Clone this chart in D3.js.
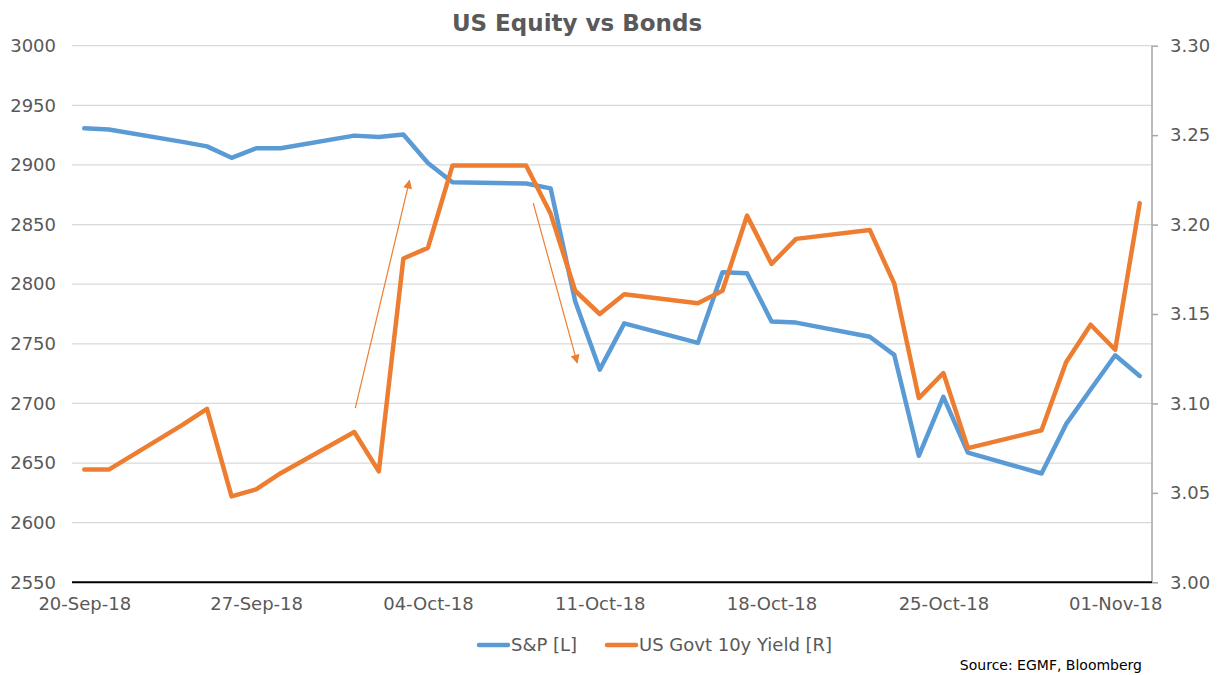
<!DOCTYPE html>
<html>
<head>
<meta charset="utf-8">
<script src="https://cdn.jsdelivr.net/npm/d3@7"></script>
<style>
  body { margin: 0; background: #fff; }
  text { font-family: "DejaVu Sans", Verdana, sans-serif; }
</style>
</head>
<body>
<div class="chart"></div>
<script>
// trading days
const dates = ["2018-09-20","2018-09-21","2018-09-24","2018-09-25","2018-09-26","2018-09-27","2018-09-28",
  "2018-10-01","2018-10-02","2018-10-03","2018-10-04","2018-10-05","2018-10-08","2018-10-09","2018-10-10",
  "2018-10-11","2018-10-12","2018-10-15","2018-10-16","2018-10-17","2018-10-18","2018-10-19","2018-10-22",
  "2018-10-23","2018-10-24","2018-10-25","2018-10-26","2018-10-29","2018-10-30","2018-10-31","2018-11-01","2018-11-02"]
const spx = [2930.75,2929.67,2919.37,2915.56,2905.97,2914.00,2913.98,2924.59,2923.43,2925.51,2901.61,2885.57,
  2884.43,2880.34,2785.68,2728.37,2767.13,2750.79,2809.92,2809.21,2768.78,2767.78,2755.88,2740.69,2656.10,
  2705.57,2658.69,2641.25,2682.63,2711.74,2740.37,2723.06]
const yield10y = [3.063,3.063,3.088,3.097,3.048,3.052,3.061,3.084,3.062,3.181,3.187,3.233,3.233,3.206,3.163,
  3.150,3.161,3.156,3.163,3.205,3.178,3.192,3.197,3.167,3.103,3.117,3.075,3.085,3.123,3.144,3.130,3.212]

const xTicks = ["2018-09-20","2018-09-27","2018-10-04","2018-10-11","2018-10-18","2018-10-25","2018-11-01"]
const leftTicks = [2550,2600,2650,2700,2750,2800,2850,2900,2950,3000]
const rightTicks = [3.00,3.05,3.10,3.15,3.20,3.25,3.30]

const seriesNames = ["S&P [L]", "US Govt 10y Yield [R]"]
const seriesColors = ["#5b9bd5", "#ed7d31"]

// annotation arrows, in [date, S&P level]
const arrows = [
  {from: ["2018-10-01T01:00", 2696], to: ["2018-10-03T06:00", 2887]},
  {from: ["2018-10-08T07:00", 2868], to: ["2018-10-10T02:00", 2734]}
]

const parse = d3.utcParse("%Y-%m-%d")
const parseT = d3.utcParse("%Y-%m-%dT%H:%M")

class DualAxisChart {
  constructor(width, height) {
    this.width = width
    this.height = height
    this.plot = {left: 72, right: 1152, top: 45.7, bottom: 582.3}
    this.svg = d3.select(".chart").append("svg")
      .attr("width", width)
      .attr("height", height)

    this.createScales()
    this.drawGrid()
    this.drawAxes()
    this.drawArrows()
    this.drawLines()
    this.drawLegend()
    this.drawTexts()
  }

  createScales() {
    const first = parse(dates[0]), last = parse(dates[dates.length - 1])
    const half = 12 * 3600 * 1000
    this.x = d3.scaleUtc()
      .domain([new Date(+first - half), new Date(+last + half)])
      .range([this.plot.left, this.plot.right])
    this.yL = d3.scaleLinear().domain([2550, 3000]).range([this.plot.bottom, this.plot.top])
    this.yR = d3.scaleLinear().domain([3.00, 3.30]).range([this.plot.bottom, this.plot.top])
  }

  drawGrid() {
    this.svg.append("g")
      .selectAll("line")
      .data(leftTicks)
      .enter()
      .append("line")
      .attr("x1", this.plot.left)
      .attr("x2", this.plot.right)
      .attr("y1", d => this.yL(d))
      .attr("y2", d => this.yL(d))
      .style("stroke", "#d9d9d9")
      .style("stroke-width", 1.3)
  }

  drawAxes() {
    var left = this.svg.append("g").attr("transform", "translate(" + (this.plot.left - 14) + ",0)")
    left.call(d3.axisLeft(this.yL).tickValues(leftTicks).tickFormat(d3.format("d")).tickSize(0).tickPadding(2))
    left.select(".domain").remove()
    left.selectAll("text").style("font-size", "18px").style("fill", "#595959")

    var right = this.svg.append("g").attr("transform", "translate(" + this.plot.right + ",0)")
    right.call(d3.axisRight(this.yR).tickValues(rightTicks).tickFormat(d3.format(".2f")).tickSize(6).tickPadding(12))
    right.select(".domain").attr("d", "M0," + this.plot.top + "V" + this.plot.bottom).style("stroke", "#a6a6a6").style("stroke-width", 1.5)
    right.selectAll(".tick line").style("stroke", "#a6a6a6").style("stroke-width", 1.5)
    right.selectAll("text").style("font-size", "18px").style("fill", "#595959")

    var bottom = this.svg.append("g").attr("transform", "translate(0," + this.plot.bottom + ")")
    bottom.call(d3.axisBottom(this.x).tickValues(xTicks.map(parse)).tickFormat(d3.utcFormat("%d-%b-%y")).tickSize(0).tickPadding(15))
    bottom.select(".domain").attr("d", "M" + this.plot.left + ",0H" + this.plot.right).style("stroke", "#000").style("stroke-width", 2)
    bottom.selectAll("text").style("font-size", "18px").style("fill", "#595959")
  }

  drawArrows() {
    var that = this
    this.svg.append("defs").append("marker")
      .attr("id", "head")
      .attr("viewBox", "0 0 10 10")
      .attr("refX", 9).attr("refY", 5)
      .attr("markerUnits", "userSpaceOnUse")
      .attr("markerWidth", 10).attr("markerHeight", 9)
      .attr("orient", "auto")
      .append("path")
      .attr("d", "M0,0L10,5L0,10Z")
      .style("fill", seriesColors[1])

    this.svg.append("g")
      .selectAll("line")
      .data(arrows)
      .enter()
      .append("line")
      .attr("x1", d => that.x(parseT(d.from[0])))
      .attr("y1", d => that.yL(d.from[1]))
      .attr("x2", d => that.x(parseT(d.to[0])))
      .attr("y2", d => that.yL(d.to[1]))
      .style("stroke", seriesColors[1])
      .style("stroke-width", 1.2)
      .attr("marker-end", "url(#head)")
  }

  drawLines() {
    var that = this
    var spxLine = d3.line().x((d, i) => that.x(parse(dates[i]))).y(d => that.yL(d))
    var yldLine = d3.line().x((d, i) => that.x(parse(dates[i]))).y(d => that.yR(d))
    var list = [[spx, spxLine], [yield10y, yldLine]]
    list.forEach((s, i) => {
      this.svg.append("path")
        .attr("d", s[1](s[0]))
        .style("fill", "none")
        .style("stroke", seriesColors[i])
        .style("stroke-width", 4.5)
        .style("stroke-linejoin", "round")
        .style("stroke-linecap", "round")
    })
  }

  drawLegend() {
    var offsets = [479, 607]
    var legend = this.svg.append("g").attr("transform", "translate(0,645)")
    seriesNames.forEach((name, i) => {
      legend.append("line")
        .attr("x1", offsets[i]).attr("x2", offsets[i] + 29)
        .attr("y1", 0).attr("y2", 0)
        .style("stroke", seriesColors[i])
        .style("stroke-width", 4.5)
        .style("stroke-linecap", "round")
      legend.append("text")
        .attr("x", offsets[i] + 32)
        .attr("y", 0)
        .attr("dy", "0.35em")
        .text(name)
        .style("font-size", "18px")
        .style("fill", "#595959")
    })
  }

  drawTexts() {
    this.svg.append("text")
      .text("US Equity vs Bonds")
      .attr("x", 577)
      .attr("y", 31)
      .attr("text-anchor", "middle")
      .style("font-size", "23px")
      .style("font-weight", "bold")
      .style("fill", "#595959")
    this.svg.append("text")
      .text("Source: EGMF, Bloomberg")
      .attr("x", 1142)
      .attr("y", 670)
      .attr("text-anchor", "end")
      .style("font-size", "14px")
      .style("fill", "#000")
  }
}

new DualAxisChart(1219, 675)
</script>
</body>
</html>
